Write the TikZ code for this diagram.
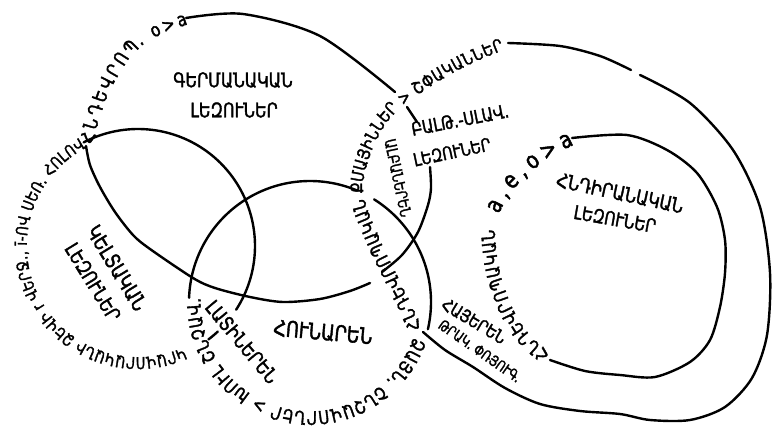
\documentclass[tikz,border=0pt]{standalone}
\usepackage{fontspec}
\newfontfamily\armfont[FakeStretch=0.8, FakeBold=1.8]{DejaVu Sans}
\usetikzlibrary{decorations.text}
\newcommand{\armsz}[1]{\armfont\fontsize{#1}{#1}\selectfont}
\tikzset{
  ln/.style={line width=2.4pt, line cap=round, line join=round},
  lbl/.style={inner sep=0pt, font=\armsz{#1}},
  arct/.style n args={3}{decorate, decoration={text along path, text={|\armsz{#1}|#3}, text align={fit to path}, raise=#2}},
}
\begin{document}
\begin{tikzpicture}[x=1pt,y=-1pt]
\fill[white] (0,0) rectangle (775,435);
\useasboundingbox (0,0) rectangle (775,435);

% ---------- C loop (Celtic - Latin)
\draw[ln] plot[domain=117.7:-33, samples=80, smooth] ({138+117*cos(\x)},{246-117*sin(\x)});
\draw[ln] plot[domain=-47:-53, samples=5, smooth] ({138+117*cos(\x)},{246-117*sin(\x)});
\path[arct={16.3}{-5.8pt}{ԿՐԱՎՈՐԱԿԱՆԻ ՁԵՎԻ r ՎԵՐՋ., ī-ՈՎ ՍԵՌ. ՀՈԼՈՎ}] plot[domain=-66:-242, samples=120] ({138+117*cos(\x)},{246-117*sin(\x)});

% ---------- K loop (Greek)
\draw[ln] plot[domain=-13:58, samples=60, smooth] ({310+121*cos(\x)},{302-121*sin(\x)});
\draw[ln] plot[domain=67:178, samples=80, smooth] ({310+121*cos(\x)},{302-121*sin(\x)});
\path[arct={18.5}{-6.6pt}{ՁԱՅՆ. ՇՆՉԱՎՈՐՆԵՐ > ԽՈՒԼ ՇՆՉԱՎ.}] plot[domain=-19:-182, samples=120] ({310+116*cos(\x)},{302-116*sin(\x)});

% ---------- G loop (o>a)
\path[arct={19}{-6.6pt}{ՀՆԴԵՎՐՈՊ. o>a}] plot coordinates {(87,143) (91,124) (96,108) (101,94) (108,80) (115,68) (122,57) (130,48) (138,40) (147,34) (157,29) (167,25) (177,21) (186,18)};
\draw[ln] plot[smooth] coordinates {(186,18) (243,14) (320,36) (395,92)};
\draw[ln] (407,107) -- (417,122);
\draw[ln] plot[smooth] coordinates {(430,167) (431,188) (428,205) (418,232) (402,255) (382,272)};
\draw[ln] plot[smooth] coordinates {(370,283) (350,291) (320,299) (283,302) (250,297) (215,288) (193,278) (150,249) (133,235) (115,212) (100,187) (90,165) (86,146)};

% ---------- S loop (satem)
\path[arct={18.5}{-6.6pt}{ՀՆԴԵՎՐՈՊԱԿԱՆ}] plot coordinates {(416,330) (410,318) (405,306) (398,293) (392,280) (385,266) (378,252) (372,238) (366,224) (361,212) (358,200)};
\path[arct={17.4}{-6.2pt}{ՔՄԱՅԻՆՆԵՐ > ՇՓԱԿԱՆՆԵՐ}] plot coordinates {(357,193) (357,181) (359,170) (362,159) (366,148) (371,137) (377,126) (384,116) (392,107) (399,101) (407,95) (415,89) (423,84) (435,76) (447,69) (460,62) (473,56) (487,50) (502,44)};
\draw[ln] plot[smooth] coordinates {(508,43) (560,46) (600,56) (631,70)};
\draw[ln] plot[smooth] coordinates {(640,75) (690,103) (733,150) (760,207) (770,273) (767,335) (752,378) (725,407) (690,420) (650,420) (620,414) (580,411) (540,404) (505,388) (473,367) (445,350) (423,332)};

% ---------- I loop (Indo-Iranian)
\path[arct={18.5}{-6.6pt}{ՀՆԴԵՎՐՈՊԱԿԱՆ}] plot coordinates {(546,358) (536,350) (527,342) (518,331) (511,320) (504,306) (499,292) (494,277) (491,262) (489,246) (488,230)};
\path[arct={24}{-5pt}{a,e,o>a}] plot coordinates {(494,212) (499,202) (505,192) (512,183) (520,175) (530,166) (540,158) (550,152) (560,146) (572,140)};
\draw[ln] plot[smooth] coordinates {(572,138) (627,135) (667,150) (697,173) (717,207) (725,240) (725,273) (720,307) (710,340) (690,362) (655,377) (620,375) (585,371) (550,360)};

% ---------- labels
\node[lbl=20] (ger1) at (233,80) {ԳԵՐՄԱՆԱԿԱՆ};
\node[lbl=20] (ger2) at (234,110) {ԼԵԶՈՒՆԵՐ};
\node[lbl=21, rotate=-58.5] (cel1) at (117,268) {ԿԵԼՏԱԿԱՆ};
\node[lbl=20, rotate=-58.5] (cel2) at (93,282) {ԼԵԶՈՒՆԵՐ};
\node[lbl=20, rotate=-50] (lat) at (242,342) {ԼԱՏԻՆԵՐԵՆ};
\node[lbl=22, rotate=-5] (gre) at (323,332) {ՀՈՒՆԱՐԵՆ};
\node[lbl=15.5, rotate=-78] (alb) at (398,178) {ԱԼԲԱՆԵՐԵՆ};
\node[lbl=18.5, rotate=11] (bs1) at (460,120) {ԲԱԼԹ.-ՍԼԱՎ.};
\node[lbl=18, rotate=12] (bs2) at (452,152) {ԼԵԶՈՒՆԵՐ};
\node[lbl=20, rotate=-12] (ii1) at (620,193) {ՀՆԴԻՐԱՆԱԿԱՆ};
\node[lbl=19, rotate=-10] (ii2) at (615,219) {ԼԵԶՈՒՆԵՐ};
\node[lbl=17.5, rotate=-31] (arm) at (474,321) {ՀԱՅԵՐԵՆ};
\node[lbl=14.5, rotate=-35] (thr) at (480,351) {ԹՐԱԿ. ՓՌՅՈՒԳ.};
\end{tikzpicture}
\end{document}
